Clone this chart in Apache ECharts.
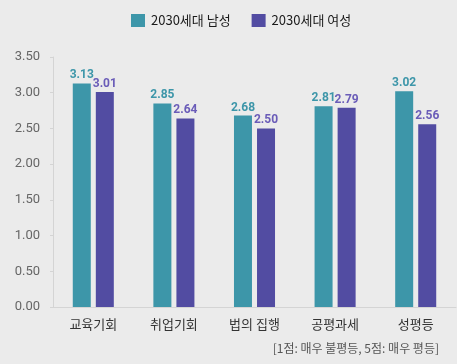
<!DOCTYPE html>
<html><head><meta charset="utf-8">
<script src="https://cdn.jsdelivr.net/npm/echarts@6/dist/echarts.min.js"></script>
<style>html,body{margin:0;padding:0;background:#ebebeb;}#c{width:457px;height:364px;}</style>
</head><body><div id="c"></div>
<script>
const categories = ['교육기회', '취업기회', '법의 집행', '공평과세', '성평등'];
const maleValues = [3.13, 2.85, 2.68, 2.81, 3.02];
const femaleValues = [3.01, 2.64, 2.50, 2.79, 2.56];
const seriesNames = ['2030세대 남성', '2030세대 여성'];
const yTicks = [0, 0.5, 1, 1.5, 2, 2.5, 3, 3.5];
const footnote = '[1점: 매우 불평등, 5점: 매우 평등]';

const font = '"Noto Sans CJK KR", "Noto Sans", sans-serif';
const chart = echarts.init(document.getElementById('c'), null, {renderer: 'canvas'});
const lbl = (color) => ({
  show: true, position: 'top', distance: 2,
  color: color, fontWeight: 'bold', fontSize: 12, fontFamily: 'Roboto, sans-serif',
  formatter: p => p.value.toFixed(2)
});
chart.setOption({
  backgroundColor: '#ebebeb',
  animation: false,
  legend: {
    left: 126, top: 9,
    itemWidth: 14, itemHeight: 13, itemGap: 21,
    textStyle: {color: '#1a1a1a', fontSize: 13, fontFamily: font, padding: [0,0,0,1]},
    data: seriesNames.map(n => ({name: n, icon: 'rect'}))
  },
  grid: {left: 53, right: 1, top: 57, bottom: 57},
  xAxis: {
    type: 'category', data: categories,
    axisLine: {lineStyle: {color: '#d4d4d4'}},
    axisTick: {show: false},
    axisLabel: {color: '#333', fontSize: 13, margin: 11, fontFamily: font}
  },
  yAxis: {
    type: 'value', min: yTicks[0], max: yTicks[yTicks.length-1], interval: 0.5,
    axisLine: {show: true, lineStyle: {color: '#d4d4d4'}},
    axisTick: {show: true, length: 3, lineStyle: {color: '#d4d4d4'}},
    splitLine: {show: false},
    axisLabel: {color: '#666', fontSize: 13, margin: 13, fontFamily: 'Roboto, ' + font,
      formatter: v => v.toFixed(2)}
  },
  series: [
    {name: seriesNames[0], type: 'bar', data: maleValues, barWidth: 18, barGap: '28%',
     itemStyle: {color: '#3d96a9'}, label: lbl('#3d96a9')},
    {name: seriesNames[1], type: 'bar', data: femaleValues, barWidth: 18,
     itemStyle: {color: '#524ca2'}, label: lbl('#6a5cb8')}
  ],
  graphic: [{
    type: 'text', right: 18, top: 342,
    style: {text: footnote, fill: '#555', fontSize: 12, fontFamily: font}
  }]
});
</script></body></html>
